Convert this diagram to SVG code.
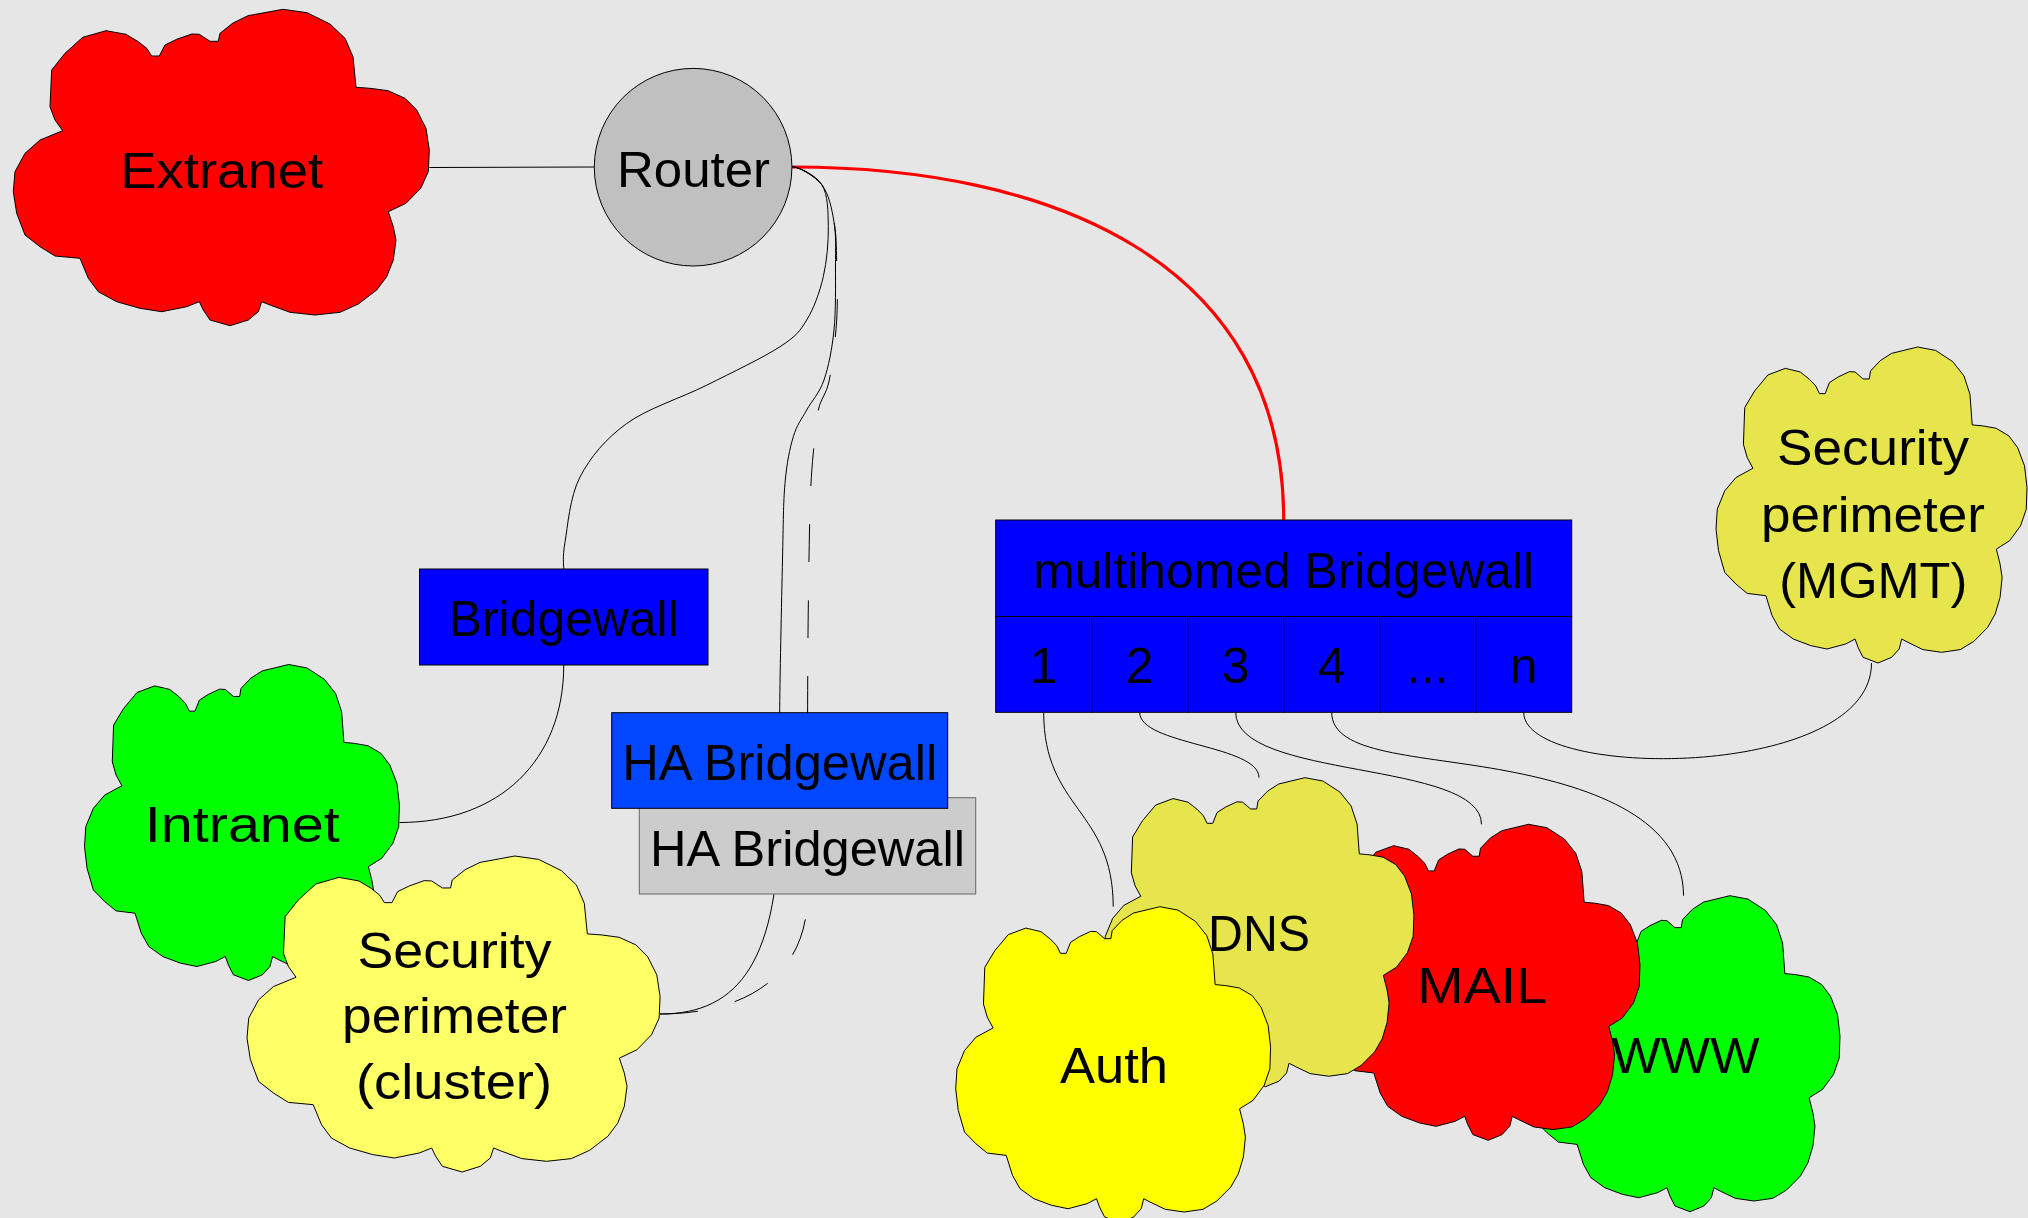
<svg xmlns="http://www.w3.org/2000/svg" xmlns:xlink="http://www.w3.org/1999/xlink" width="2028" height="1218" viewBox="0 0 2028 1218">
  <style>
    text { font-family: "Liberation Sans", Arial, sans-serif; font-size: 50px; fill: #000; text-anchor: middle; }
    .wire { fill: none; stroke: #000; stroke-width: 1; }
    .dashed { stroke-dasharray: 38 38; }
    .uplink { fill: none; stroke: #ff0000; stroke-width: 3.2; }
    .box { stroke: #000; stroke-width: 1; }
    .cloudshape { stroke: #000; stroke-width: 1; vector-effect: non-scaling-stroke; }
  </style>
  <defs>
    <!-- cloud outline, 416 x 316.4 units -->
    <path id="cloud" class="cloudshape" d="M138.4,46.7 L146,46.7 151.7,35.7 163.4,30 178.4,24.7 186,25 196.7,32 205,32 206.7,24 219.7,13.7 234.7,6.4 269.7,0 293.7,3.4 316.7,14.7 331.7,29 339.7,47.4 342.7,78 356.7,79 374.7,81.4 391.7,89 403.4,100.7 412.7,119 416,140.7 415,162.4 407.4,179 392.7,194 375,202.4 380,217.4 382.7,230.7 380,250.7 373.4,267.4 363.4,280.7 345,294.7 326.7,303 301.7,305.7 276.7,303 256.7,295.7 248.4,292.4 245,302.4 235,310.7 216.7,316.4 196.7,310.7 190,300.7 186,292.4 173.4,297.4 148.4,302.4 126.7,299 103.4,292.4 85,282.4 75,269 66.7,249 41.7,246.7 26.7,237.4 11.7,225.7 3.4,204 0,182.4 1.7,162.4 11.7,144 26.7,130.7 49.4,121.4 41.7,110.7 36.7,97.4 38.4,60.7 51.7,44 69.4,28 92.7,21.4 112.7,25 125,32.4 133.4,39 Z"/>
  </defs>

  <rect x="0" y="0" width="2028" height="1218" fill="#e6e6e6"/>

  <g id="connectors">
    <path class="wire" d="M429.3,167.5 L594.3,167"/>
    <path class="uplink" d="M792,167 C1050,167 1283.7,260 1283.7,520"/>
    <path class="wire" d="M792.3,166.7 C798.3,166.7 816,175 822,185 C828,195 828.08,211.42 828.3,226.7 C828.52,241.98 826.9,261.15 823.3,276.7 C819.7,292.25 813.92,308.33 806.7,320 C799.48,331.67 796.67,335.83 780,346.7 C763.33,357.57 732.25,372.4 706.7,385.2 C681.15,398 647.82,408.2 626.7,423.5 C605.58,438.8 590.28,457.2 580,477 C569.72,496.8 567.67,526.97 565,542.3 C562.33,557.63 563.75,564.5 563.75,569"/>
    <path class="wire" d="M563.75,665 C563.75,760 500,822.5 399.5,822.5"/>
    <path class="wire" d="M792.3,166.7 C798.3,166.7 815.05,175.78 822,185 C828.95,194.22 831.75,208.5 834,222 C836.25,235.5 835.5,248 835.5,266 C835.5,284 835.92,311 834,330 C832.08,349 828.55,366.67 824,380 C819.45,393.33 811.82,400.55 806.7,410 C801.58,419.45 796.92,424.48 793.3,436.7 C789.68,448.92 786.8,462.75 785,483.3 C783.2,503.85 783.38,521.77 782.5,560 C781.62,598.23 779.7,687.7 779.7,712.7"/>
    <path class="wire dashed" d="M792.3,166.7 C798.3,166.7 815.05,175.78 822,185 C828.95,194.22 831.55,209.17 834,222 C836.45,234.83 836.25,245.67 836.7,262 C837.15,278.33 837.93,300.33 836.7,320 C835.47,339.67 832.37,365 829.3,380 C826.23,395 820.97,397.83 818.3,410 C815.63,422.17 814.57,439.83 813.3,453 C812.03,466.17 811.33,476.17 810.7,489 C810.07,501.83 809.9,510.33 809.5,530 C809.1,549.67 808.6,581.33 808.3,607 C808,632.67 807.83,652.22 807.7,684 C807.57,715.78 807.5,778.7 807.5,797.7"/>
    <path class="wire" d="M779.7,808.3 C779.7,960 740,1014 660,1014"/>
    <path class="wire dashed" d="M660,1014 C740,1014 807.5,980 807.5,894"/>
    <path class="wire" d="M1043.7,712.3 C1043.7,809.5 1113.2,809.5 1113.2,906.7"/>
    <path class="wire" d="M1139.7,712.3 C1139.7,745 1259,745 1259,777.7"/>
    <path class="wire" d="M1235.7,712.3 C1235.7,780 1481.5,760 1481.5,824.3"/>
    <path class="wire" d="M1331.7,712.3 C1331.7,755 1418.5,754.3 1507,771 C1595.5,787.7 1683.5,820 1683.5,895.7"/>
    <path class="wire" d="M1523.7,712.3 C1523.7,780.7 1871.5,780.7 1871.5,663"/>
  </g>

  <g id="extranet">
    <use xlink:href="#cloud" href="#cloud" fill="#ff0000" transform="translate(13.3 9.3)"/>
    <text x="221.7" y="187.7" textLength="203" lengthAdjust="spacingAndGlyphs">Extranet</text>
  </g>

  <g id="router">
    <circle cx="693.1" cy="167.2" r="98.8" fill="#c0c0c0" stroke="#000" stroke-width="1"/>
    <text x="693.5" y="186.7" textLength="153" lengthAdjust="spacingAndGlyphs">Router</text>
  </g>

  <g id="bridgewall">
    <rect class="box" x="419.5" y="569" width="288.5" height="96" fill="#0000ff"/>
    <text x="563.75" y="636" textLength="230" lengthAdjust="spacingAndGlyphs">Bridgewall</text>
  </g>

  <g id="ha-bridgewall-standby">
    <rect x="639.3" y="797.7" width="336.4" height="96.3" fill="#cccccc" stroke="#666666" stroke-width="1"/>
    <text x="807.5" y="866" textLength="315" lengthAdjust="spacingAndGlyphs">HA Bridgewall</text>
  </g>

  <g id="ha-bridgewall-active">
    <rect class="box" x="611.7" y="712.7" width="336" height="95.6" fill="#0047ff"/>
    <text x="779.7" y="780" textLength="315" lengthAdjust="spacingAndGlyphs">HA Bridgewall</text>
  </g>

  <g id="multihomed-bridgewall">
    <rect class="box" x="995.7" y="520" width="576" height="96.5" fill="#0000ff"/>
    <text x="1283.7" y="588.3" textLength="501" lengthAdjust="spacingAndGlyphs">multihomed Bridgewall</text>
    <rect class="box" x="995.7" y="616.5" width="96" height="95.8" fill="#0000ff"/>
    <rect class="box" x="1091.7" y="616.5" width="96" height="95.8" fill="#0000ff"/>
    <rect class="box" x="1187.7" y="616.5" width="96" height="95.8" fill="#0000ff"/>
    <rect class="box" x="1283.7" y="616.5" width="96" height="95.8" fill="#0000ff"/>
    <rect class="box" x="1379.7" y="616.5" width="96" height="95.8" fill="#0000ff"/>
    <rect class="box" x="1475.7" y="616.5" width="96" height="95.8" fill="#0000ff"/>
    <text x="1043.7" y="683.3">1</text>
    <text x="1139.7" y="683.3">2</text>
    <text x="1235.7" y="683.3">3</text>
    <text x="1331.7" y="683.3">4</text>
    <text x="1427.7" y="683.3">...</text>
    <text x="1523.7" y="683.3">n</text>
  </g>

  <g id="security-perimeter-mgmt">
    <use xlink:href="#cloud" href="#cloud" fill="#e6e64c" transform="translate(1716 347) scale(0.7476 0.9987)"/>
    <text x="1873" y="465" textLength="192" lengthAdjust="spacingAndGlyphs">Security</text>
    <text x="1873" y="531.7" textLength="224" lengthAdjust="spacingAndGlyphs">perimeter</text>
    <text x="1873.3" y="598.3" textLength="188" lengthAdjust="spacingAndGlyphs">(MGMT)</text>
  </g>

  <g id="intranet">
    <use xlink:href="#cloud" href="#cloud" fill="#00ff00" transform="translate(84.5 664.5) scale(0.757 0.9987)"/>
    <text x="242.3" y="841.8" textLength="195" lengthAdjust="spacingAndGlyphs">Intranet</text>
  </g>

  <g id="security-perimeter-cluster">
    <use xlink:href="#cloud" href="#cloud" fill="#ffff66" transform="translate(247 856) scale(0.993 0.9987)"/>
    <text x="454.5" y="967.5" textLength="194" lengthAdjust="spacingAndGlyphs">Security</text>
    <text x="454.5" y="1033" textLength="225" lengthAdjust="spacingAndGlyphs">perimeter</text>
    <text x="454" y="1099" textLength="196" lengthAdjust="spacingAndGlyphs">(cluster)</text>
  </g>

  <g id="www">
    <use xlink:href="#cloud" href="#cloud" fill="#00ff00" transform="translate(1527 895.7) scale(0.7524 0.9987)"/>
    <text x="1685.5" y="1072.7" textLength="148" lengthAdjust="spacingAndGlyphs">WWW</text>
  </g>

  <g id="mail">
    <use xlink:href="#cloud" href="#cloud" fill="#ff0000" transform="translate(1323 824.3) scale(0.762 0.9987)"/>
    <text x="1482.3" y="1002.7" textLength="130" lengthAdjust="spacingAndGlyphs">MAIL</text>
  </g>

  <g id="dns">
    <use xlink:href="#cloud" href="#cloud" fill="#e6e64c" transform="translate(1104 777.7) scale(0.745 0.9766)"/>
    <text x="1259" y="950.7" textLength="102" lengthAdjust="spacingAndGlyphs">DNS</text>
  </g>

  <g id="auth">
    <use xlink:href="#cloud" href="#cloud" fill="#ffff00" transform="translate(955.7 906.7) scale(0.757 0.9987)"/>
    <text x="1114" y="1083.3" textLength="108" lengthAdjust="spacingAndGlyphs">Auth</text>
  </g>
</svg>
